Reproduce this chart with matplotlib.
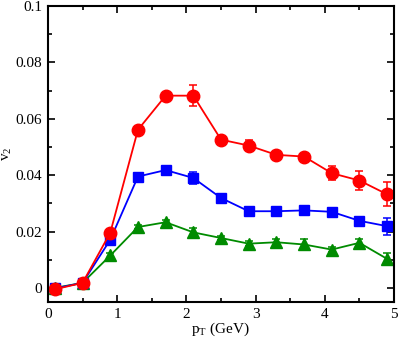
import matplotlib
matplotlib.use("Agg")
import matplotlib.pyplot as plt
from matplotlib.ticker import MultipleLocator

pt = [0.1, 0.5, 0.9, 1.3, 1.7, 2.1, 2.5, 2.9, 3.3, 3.7, 4.1, 4.5, 4.9]
v2_red = [-0.0005, 0.0018, 0.0196, 0.0561, 0.0682, 0.0682, 0.0526, 0.0505, 0.0472, 0.0466, 0.0407, 0.0381, 0.0332]
err_red = [0.0006, 0.0006, 0.0008, 0.0008, 0.0008, 0.0037, 0.0008, 0.0020, 0.0010, 0.0010, 0.0025, 0.0033, 0.0043]
v2_blue = [-0.0002, 0.0018, 0.0171, 0.0395, 0.0418, 0.0390, 0.0319, 0.0272, 0.0272, 0.0275, 0.0270, 0.0238, 0.0219]
err_blue = [0.0006, 0.0006, 0.0008, 0.0008, 0.0008, 0.0020, 0.0008, 0.0008, 0.0015, 0.0008, 0.0008, 0.0015, 0.0030]
v2_green = [0.0000, 0.0018, 0.0115, 0.0216, 0.0233, 0.0197, 0.0177, 0.0157, 0.0162, 0.0154, 0.0136, 0.0160, 0.0103]
err_green = [0.0006, 0.0006, 0.0008, 0.0008, 0.0008, 0.0015, 0.0008, 0.0008, 0.0010, 0.0020, 0.0008, 0.0015, 0.0020]

x_ticks = [0, 1, 2, 3, 4, 5]
x_ticklabels = ['0', '1', '2', '3', '4', '5']
y_ticks = [0, 0.02, 0.04, 0.06, 0.08, 0.1]
y_ticklabels = ['0', '0.02', '0.04', '0.06', '0.08', '0.1']

plt.rcParams['font.family'] = ['Liberation Serif', 'DejaVu Serif']
plt.rcParams['mathtext.fontset'] = 'stix'

fig = plt.figure(figsize=(3.99, 3.38), dpi=100)
ax = fig.add_axes([0.1203, 0.1065, 0.8672, 0.8757])

common = dict(capsize=3, elinewidth=1.1, capthick=1.1, linewidth=1.3)
ax.errorbar(pt, v2_green, yerr=err_green, color='#008b00', marker='^', markersize=8.5, **common)
ax.errorbar(pt, v2_blue, yerr=err_blue, color='#0000ff', marker='s', markersize=7.5, **common)
ax.errorbar(pt, v2_red, yerr=err_red, color='#ff0000', marker='o', markersize=9, **common)

ax.set_xlim(0, 5)
ax.set_ylim(-0.005, 0.1)
ax.set_xticks(x_ticks)
ax.set_xticklabels(x_ticklabels, fontsize=11)
ax.set_yticks(y_ticks)
ax.set_yticklabels(y_ticklabels, fontsize=11)
ax.xaxis.set_minor_locator(MultipleLocator(0.5))
ax.yaxis.set_minor_locator(MultipleLocator(0.01))
ax.tick_params(which='both', direction='in', top=True, right=True, width=1.2)
ax.tick_params(which='major', length=5, pad=4)
ax.tick_params(which='minor', length=3)
for s in ax.spines.values():
    s.set_linewidth(1.5)

ax.set_xlabel(r'p$_{\mathregular{T}}$ (GeV)', fontsize=11)
ax.xaxis.set_label_coords(0.5, -0.062)
ax.set_ylabel(r'v$_{\mathregular{2}}$', fontsize=11)
ax.yaxis.set_label_coords(-0.098, 0.5)

fig.savefig('out.png', dpi=100)
